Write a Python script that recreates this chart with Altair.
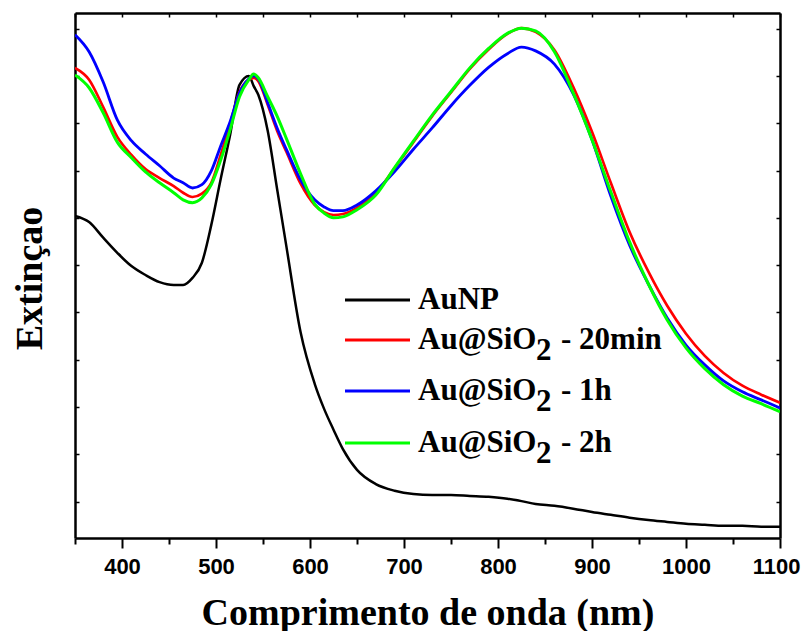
import altair as alt
import pandas as pd

# ---------------- data ----------------
WAVELENGTH = [350, 365, 380, 395, 410, 425, 440, 455, 465, 475, 485, 495, 505, 515, 525,
              535, 540, 545, 555, 565, 575, 590, 605, 615, 625, 635, 650, 670, 690, 710,
              730, 750, 770, 790, 810, 825, 840, 860, 880, 900, 920, 940, 960, 980, 1000,
              1020, 1040, 1060, 1080, 1100]

AUNP = [0.704, 0.691, 0.658, 0.626, 0.598, 0.579, 0.564, 0.558, 0.558, 0.573,
        0.605, 0.685, 0.782, 0.875, 0.981, 1.000, 0.979, 0.960, 0.884, 0.761,
        0.638, 0.458, 0.349, 0.296, 0.252, 0.211, 0.167, 0.137, 0.123, 0.116,
        0.114, 0.114, 0.112, 0.110, 0.106, 0.101, 0.095, 0.091, 0.085, 0.078,
        0.072, 0.066, 0.061, 0.057, 0.053, 0.051, 0.049, 0.049, 0.047, 0.047]

SIO2_20MIN = [1.017, 0.992, 0.934, 0.871, 0.833, 0.803, 0.784, 0.767, 0.753, 0.744,
              0.751, 0.774, 0.833, 0.899, 0.966, 0.992, 0.996, 0.989, 0.939, 0.884,
              0.839, 0.772, 0.727, 0.712, 0.706, 0.708, 0.721, 0.752, 0.805, 0.860,
              0.915, 0.965, 1.015, 1.056, 1.089, 1.101, 1.093, 1.055, 0.977, 0.882,
              0.774, 0.670, 0.586, 0.514, 0.455, 0.408, 0.372, 0.345, 0.326, 0.309]

SIO2_1H = [1.087, 1.051, 0.987, 0.907, 0.863, 0.835, 0.810, 0.784, 0.774, 0.763,
           0.770, 0.799, 0.852, 0.903, 0.964, 0.994, 1.000, 0.994, 0.943, 0.890,
           0.844, 0.780, 0.738, 0.723, 0.715, 0.715, 0.727, 0.757, 0.798, 0.845,
           0.890, 0.937, 0.980, 1.018, 1.047, 1.061, 1.053, 1.025, 0.962, 0.865,
           0.746, 0.642, 0.560, 0.488, 0.431, 0.389, 0.355, 0.332, 0.315, 0.298]

SIO2_2H = [1.002, 0.975, 0.922, 0.860, 0.827, 0.797, 0.774, 0.753, 0.738, 0.732,
           0.742, 0.770, 0.822, 0.886, 0.956, 0.992, 1.004, 0.996, 0.956, 0.915,
           0.867, 0.793, 0.729, 0.710, 0.700, 0.702, 0.717, 0.748, 0.806, 0.862,
           0.917, 0.967, 1.017, 1.058, 1.090, 1.101, 1.095, 1.051, 0.964, 0.865,
           0.755, 0.649, 0.560, 0.484, 0.425, 0.381, 0.347, 0.323, 0.307, 0.290]

SERIES = ["AuNP", "Au@SiO2 - 20min", "Au@SiO2 - 1h", "Au@SiO2 - 2h"]
LEG_MAIN = ["AuNP", "Au@SiO", "Au@SiO", "Au@SiO"]
LEG_SUB = ["", "2", "2", "2"]
LEG_REST = ["", "- 20min", "- 1h", "- 2h"]
COLORS = ["#000000", "#ff0000", "#0000ff", "#00ff00"]

X_TICKS = list(range(350, 1101, 50))
Y_TICKS = [round(0.1 * i, 1) for i in range(1, 12)]

# ---------------- layout ----------------
W, H = 705, 525
LEG_LINE_Y = [287, 327, 378, 430]   # legend row positions (px, plot coords)

rows = []
for name, vals in zip(SERIES, [AUNP, SIO2_20MIN, SIO2_1H, SIO2_2H]):
    for w, v in zip(WAVELENGTH, vals):
        rows.append({"wl": w, "ext": v, "series": name})
df = pd.DataFrame(rows)

leg = pd.DataFrame({
    "series": SERIES, "main": LEG_MAIN, "sub": LEG_SUB, "rest": LEG_REST,
    "ly": LEG_LINE_Y,
})
leg["ty"] = leg["ly"] + 9
leg["sy"] = leg["ly"] + 20

xscale = alt.Scale(domain=[350, 1100], nice=False, zero=False)
yscale = alt.Scale(domain=[0.023, 1.133], nice=False, zero=False)
cscale = alt.Scale(domain=SERIES, range=COLORS)

serif = "Liberation Serif"
sans = "Liberation Sans"

lines = alt.Chart(df).mark_line(interpolate="monotone", clip=True).encode(
    x=alt.X("wl:Q", scale=xscale, axis=alt.Axis(
        title="Comprimento de onda (nm)", values=X_TICKS, grid=False, format="d",
        labelExpr="datum.value % 100 === 0 ? datum.label : ''",
        labelFlush=True, labelFlushOffset=20, labelOverlap=False,
        labelFont=sans, labelFontWeight="bold", labelFontSize=22, labelColor="black",
        labelPadding=8,
        tickSize={"condition": {"test": "datum.value % 100 === 0", "value": 10}, "value": 6},
        tickWidth=2, tickColor="black", domainWidth=2.5, domainColor="black",
        titleFont=serif, titleFontSize=38, titleFontWeight="bold", titleColor="black",
        titleY=86, titleBaseline="alphabetic")),
    y=alt.Y("ext:Q", scale=yscale, axis=alt.Axis(
        title="Extinçao", labels=False, ticks=False, domain=False, grid=False,
        titleFont=serif, titleFontSize=38, titleFontWeight="bold", titleColor="black",
        titleAngle=270, titleX=-34, titleY=265, titleBaseline="alphabetic")),
    color=alt.Color("series:N", scale=cscale, legend=None),
    strokeWidth=alt.StrokeWidth("series:N", scale=alt.Scale(domain=SERIES, range=[2.5, 3, 3, 3]), legend=None),
)

frame_a = alt.Chart(df).mark_point(opacity=0).encode(
    x=alt.X("wl:Q", scale=xscale, axis=alt.Axis(
        orient="bottom", offset=-H, values=X_TICKS, labels=False, title=None, grid=False,
        tickSize=4, tickWidth=1.5, tickColor="black", domainWidth=2.5, domainColor="black")),
    y=alt.Y("ext:Q", scale=yscale, axis=alt.Axis(
        orient="right", offset=-W, values=Y_TICKS, labels=False, title=None, grid=False,
        tickSize=4, tickWidth=1.5, tickColor="black", domainWidth=2.5, domainColor="black")),
)

frame_b = alt.Chart(df).mark_point(opacity=0).encode(
    x=alt.X("wl:Q", scale=xscale, axis=None),
    y=alt.Y("ext:Q", scale=yscale, axis=alt.Axis(
        orient="left", offset=-W, values=Y_TICKS, labels=False, title=None, grid=False,
        tickSize=4, tickWidth=1.5, tickColor="black", domainWidth=2.5, domainColor="black")),
)

leg_rule = alt.Chart(leg).mark_rule(strokeWidth=3).encode(
    x=alt.value(270), x2=alt.value(335),
    y=alt.Y("ly:Q", scale=None),
    color=alt.Color("series:N", scale=cscale, legend=None),
)
txt = dict(align="left", baseline="alphabetic", font=serif, fontWeight="bold",
           fontSize=31, color="black")
leg_main = alt.Chart(leg).mark_text(**txt).encode(
    x=alt.value(343), y=alt.Y("ty:Q", scale=None), text="main:N")
leg_sub = alt.Chart(leg).mark_text(**txt).encode(
    x=alt.value(461), y=alt.Y("sy:Q", scale=None), text="sub:N")
leg_rest = alt.Chart(leg).mark_text(**txt).encode(
    x=alt.value(486), y=alt.Y("ty:Q", scale=None), text="rest:N")

chart = alt.layer(lines, frame_a, frame_b, leg_rule, leg_main, leg_sub, leg_rest).resolve_axis(
    x="independent", y="independent"
).properties(
    width=W, height=H,
    autosize=alt.AutoSizeParams(type="none"),
    padding={"left": 67, "top": 5, "right": 21, "bottom": 93},
    background="white",
).configure_view(stroke=None)

chart.save("out.html", embed_options={"renderer": "svg", "actions": False})
